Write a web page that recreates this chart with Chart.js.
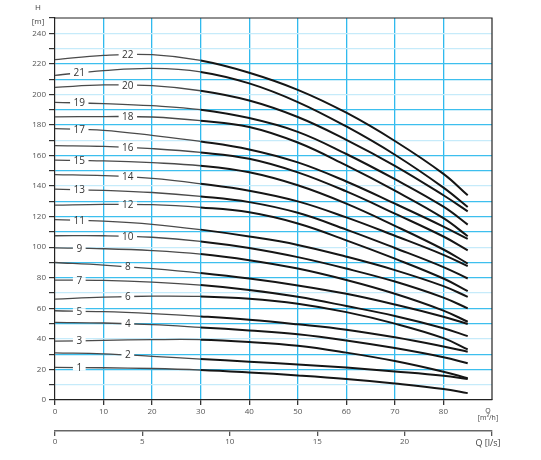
<!DOCTYPE html>
<html>
<head>
<meta charset="utf-8">
<script src="https://cdn.jsdelivr.net/npm/chart.js@4"></script>
<style>
  html, body { margin: 0; padding: 0; background: #fff; }
  #wrap { width: 541px; height: 460px; }
</style>
</head>
<body>
<div id="wrap"><canvas id="chartPump" width="541" height="460"></canvas></div>
<script>
// flow Q [m3/h] where the heads are read
const flow = [0, 10, 20, 30, 40, 50, 60, 70, 80, 85]

// head H [m] for each number of stages
const h1 = [21.3, 21.1, 20.6, 19.6, 18.0, 16.1, 13.8, 10.8, 7.2, 4.5]
const h2 = [30.8, 30.2, 28.6, 26.8, 25.1, 23.3, 21.2, 18.7, 15.9, 13.7]
const h3 = [38.5, 39.0, 39.5, 39.5, 38.0, 35.5, 31.0, 25.5, 18.5, 14.2]
const h4 = [50.8, 50.4, 49.3, 47.5, 45.5, 43.0, 39.0, 34.0, 28.0, 24.0]
const h5 = [58.4, 57.8, 56.5, 54.7, 52.5, 49.5, 46.0, 41.0, 35.0, 31.6]
const h6 = [66.0, 67.3, 68.0, 67.8, 66.3, 63.0, 57.5, 50.0, 40.5, 33.1]
const h7 = [78.5, 78.3, 77.2, 75.2, 72.0, 67.5, 61.5, 55.0, 47.0, 41.8]
const h8 = [90.0, 88.3, 86.0, 83.1, 79.5, 75.0, 69.5, 62.5, 54.5, 49.7]
const h9 = [99.5, 99.0, 97.8, 95.5, 91.5, 86.0, 78.5, 69.5, 58.5, 51.2]
const h10 = [107.5, 107.5, 106.5, 103.8, 99.5, 93.5, 86.0, 77.5, 67.0, 60.0]
const h11 = [118.0, 117.0, 115.0, 111.5, 107.0, 101.5, 93.8, 85.0, 74.5, 67.5]
const h12 = [127.5, 128.0, 127.8, 126.0, 122.8, 115.5, 104.5, 92.5, 79.5, 71.2]
const h13 = [138.0, 137.2, 135.8, 133.2, 129.5, 122.5, 111.5, 99.5, 87.0, 79.5]
const h14 = [147.5, 146.8, 145.0, 141.5, 137.0, 130.0, 119.5, 107.5, 95.0, 87.6]
const h15 = [157.0, 156.5, 155.3, 153.3, 149.0, 140.5, 128.5, 114.0, 98.5, 89.3]
const h16 = [166.5, 166.0, 164.5, 162.0, 157.9, 149.0, 136.5, 122.0, 107.0, 98.0]
const h17 = [177.6, 176.5, 173.2, 169.2, 164.0, 155.5, 143.0, 128.5, 113.5, 105.4]
const h18 = [185.3, 185.5, 185.2, 182.8, 178.7, 168.5, 153.5, 137.0, 119.0, 107.2]
const h19 = [194.8, 194.0, 192.6, 190.0, 184.5, 175.5, 161.0, 144.5, 126.5, 114.8]
const h20 = [204.6, 206.2, 205.7, 202.4, 196.0, 185.2, 170.3, 153.3, 134.0, 123.5]
const h21 = [212.5, 215.5, 217.0, 214.7, 207.2, 195.0, 179.0, 160.5, 139.0, 126.3]
const h22 = [222.7, 225.5, 226.0, 222.2, 214.2, 203.0, 188.0, 169.5, 148.0, 134.0]

const heads = [h1, h2, h3, h4, h5, h6, h7, h8, h9, h10, h11, h12, h13, h14, h15, h16, h17, h18, h19, h20, h21, h22]
const curveNames = ['1', '2', '3', '4', '5', '6', '7', '8', '9', '10', '11', '12', '13', '14', '15', '16', '17', '18', '19', '20', '21', '22']

// tick labels
const headTicks = [0, 20, 40, 60, 80, 100, 120, 140, 160, 180, 200, 220, 240]
const flowTicks = [0, 10, 20, 30, 40, 50, 60, 70, 80]
const litreTicks = [0, 5, 10, 15, 20]
// grid rows that come out pale in the print
const paleRows = [10, 40, 70, 100, 140, 170, 200, 230, 240]

const tickFont = { family: 'Open Sans', size: 8 }

// numbers written on the curves, frame and axis captions
const pumpDecor = {
  id: 'pumpDecor',
  afterDatasetsDraw (chart) {
    const { ctx, chartArea } = chart
    const xs = chart.scales.x
    const ys = chart.scales.y
    ctx.save()
    // frame top and right
    ctx.strokeStyle = '#222'
    ctx.lineWidth = 1.2
    ctx.beginPath()
    ctx.moveTo(chartArea.left, chartArea.top)
    ctx.lineTo(chartArea.right, chartArea.top)
    ctx.lineTo(chartArea.right, chartArea.bottom)
    ctx.stroke()

    ctx.font = '10px "Open Sans"'
    ctx.textAlign = 'center'
    ctx.textBaseline = 'middle'
    chart.data.datasets.forEach((ds, i) => {
      const q = i % 2 === 0 ? 5 : 15
      const pts = ds.data
      let k = 0
      while (pts[k + 1].x < q) k++
      const a = pts[k]
      const b = pts[k + 1]
      const h = a.y + (b.y - a.y) * (q - a.x) / (b.x - a.x)
      const px = xs.getPixelForValue(q)
      const py = ys.getPixelForValue(h)
      const w = ctx.measureText(ds.label).width + 7
      ctx.fillStyle = '#fff'
      ctx.fillRect(px - w / 2, py - 3, w, 6)
      ctx.fillStyle = '#333'
      ctx.fillText(ds.label, px, py + 0.5)
    })

    ctx.fillStyle = '#444'
    ctx.font = '8px "Open Sans"'
    ctx.fillText('H', chartArea.left - 17, chartArea.top - 10)
    ctx.fillText('[m]', chartArea.left - 17, chartArea.top + 4)
    ctx.font = '7px "Open Sans"'
    ctx.fillText('Q', chartArea.right - 4, chartArea.bottom + 11)
    ctx.fillText('[m\u00b3/h]', chartArea.right - 4, chartArea.bottom + 18)
    ctx.font = '9px "Open Sans"'
    const x2 = chart.scales.x2
    ctx.fillText('Q [l/s]', chartArea.right - 4, x2.top + 12)
    ctx.restore()
  }
}

const fntGraficaBomba = () => {
  const ctx = document.getElementById('chartPump')
  new Chart(ctx, {
    type: 'line',
    data: {
      datasets: heads.map((h, i) => ({
        label: curveNames[i],
        data: flow.map((q, k) => ({ x: q, y: h[k] })),
        borderColor: '#151515',
        borderWidth: 2,
        pointRadius: 0,
        fill: false,
        tension: 0.4,
        segment: {
          borderColor: c => c.p0.parsed.x < 30 ? '#4a4a4a' : '#151515',
          borderWidth: c => c.p0.parsed.x < 30 ? 1.3 : 2
        }
      }))
    },
    options: {
      responsive: false,
      animation: false,
      layout: { padding: { left: 0, top: 18, right: 49, bottom: 9 } },
      plugins: { legend: { display: false }, tooltip: { enabled: false } },
      scales: {
        x: {
          type: 'linear',
          position: 'bottom',
          weight: 0,
          min: 0,
          max: 90,
          afterFit: s => { s.height = 31 },
          afterBuildTicks: s => { s.ticks = flowTicks.concat([90]).map(v => ({ value: v })) },
          ticks: {
            autoSkip: false,
            maxRotation: 0,
            padding: 2,
            color: '#555',
            font: tickFont,
            callback: v => flowTicks.includes(v) ? String(v) : ''
          },
          grid: {
            color: c => (c.tick && (c.tick.value === 0 || c.tick.value === 90)) ? 'rgba(0,0,0,0)' : '#30baee',
            tickColor: c => (c.tick && c.tick.value === 90) ? 'rgba(0,0,0,0)' : '#333',
            tickLength: 5,
            lineWidth: 1.3
          },
          border: { color: '#222', width: 1.2 }
        },
        x2: {
          type: 'linear',
          position: 'bottom',
          weight: 1,
          min: 0,
          max: 25,
          afterFit: s => { s.height = 20 },
          afterBuildTicks: s => { s.ticks = litreTicks.concat([25]).map(v => ({ value: v })) },
          ticks: {
            autoSkip: false,
            maxRotation: 0,
            padding: 1,
            color: '#555',
            font: tickFont,
            callback: v => litreTicks.includes(v) ? String(v) : ''
          },
          grid: { drawOnChartArea: false, tickLength: 5, tickColor: '#555', lineWidth: 1.3 },
          border: { color: '#666', width: 1.5 }
        },
        y: {
          type: 'linear',
          position: 'left',
          min: 0,
          max: 250,
          afterFit: s => { s.width = 55 },
          ticks: {
            stepSize: 10,
            autoSkip: false,
            padding: 3,
            color: '#555',
            font: tickFont,
            callback: v => headTicks.includes(v) ? String(v) : ''
          },
          grid: {
            color: c => {
              const v = c.tick ? c.tick.value : 0
              if (v === 0 || v === 250) return 'rgba(0,0,0,0)'
              return paleRows.includes(v) ? '#c6ebfa' : '#3dbfee'
            },
            tickColor: '#333',
            tickLength: 6,
            lineWidth: 1.2
          },
          border: { color: '#222', width: 1.2 }
        }
      }
    },
    plugins: [pumpDecor]
  })
}

document.addEventListener('DOMContentLoaded', function () {
  fntGraficaBomba()
}, false)
</script>
</body>
</html>
